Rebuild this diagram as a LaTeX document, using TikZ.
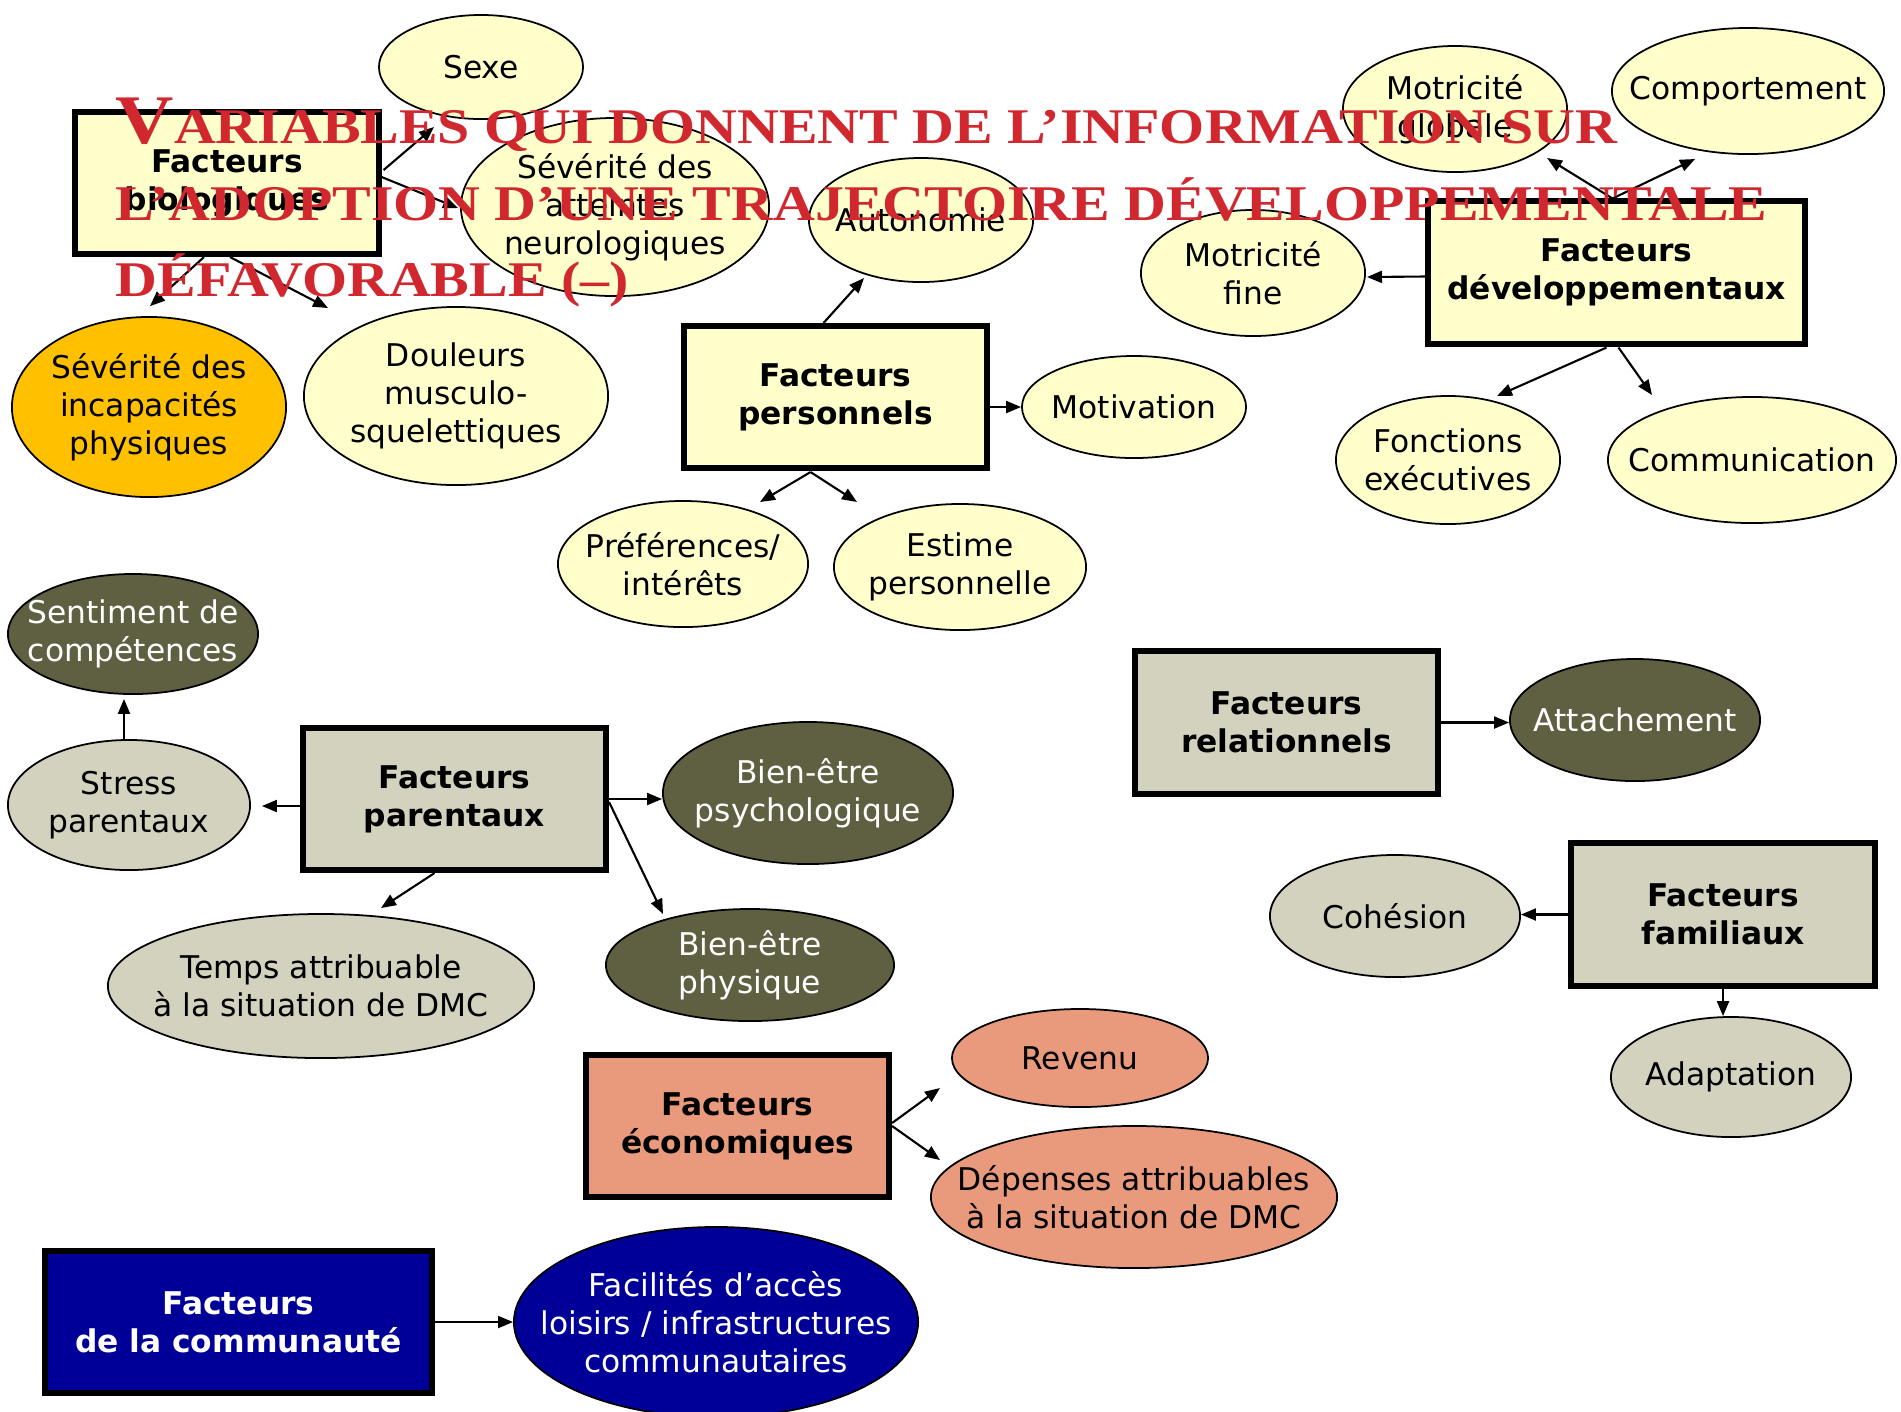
\documentclass[tikz,border=0pt]{standalone}
\usepackage{graphicx}
\usepackage{fontspec}
\setmainfont{DejaVu Sans}
\newfontfamily\titrefont{Liberation Serif}
\usetikzlibrary{shapes.geometric,arrows.meta,calc}
\definecolor{JauneClr}{RGB}{255,255,204}
\definecolor{OrangeClr}{RGB}{255,192,0}
\definecolor{BeigeClr}{RGB}{210,210,190}
\definecolor{OliveClr}{RGB}{95,95,65}
\definecolor{SaumonClr}{RGB}{233,154,124}
\definecolor{BleuClr}{RGB}{0,0,153}
\definecolor{TitreClr}{RGB}{209,40,48}
\newcommand{\titreligne}[1]{\scalebox{1.16}[1]{#1}}

\begin{document}
\begin{tikzpicture}[x=0.01cm,y=-0.01cm,
  fact/.style={draw,line width=1.7pt,minimum width=3.03cm,minimum height=1.42cm,inner sep=0pt,align=center,font=\fontsize{8.9}{10.8}\selectfont\bfseries},
  var/.style={draw,ellipse,line width=0.5pt,inner sep=-1cm,align=center,font=\fontsize{8.9}{10.8}\selectfont},
  fleche/.style={-{Triangle[length=0.15cm,width=0.12cm]},line width=0.6pt},
  titre/.style={anchor=base west,inner sep=0pt,text=TitreClr,font=\titrefont\bfseries\fontsize{14.2}{17}\selectfont}]

\useasboundingbox (0,0) rectangle (1901,1411);

% les facteurs
\node[fact,fill=JauneClr] (bio) at (227,183) {Facteurs\\biologiques};
\node[fact,fill=JauneClr] (pers) at (835.5,397) {Facteurs\\personnels};
\node[fact,fill=JauneClr,minimum width=3.77cm] (dev) at (1616.5,272.5) {Facteurs\\développementaux};
\node[fact,fill=BeigeClr] (par) at (454.5,799) {Facteurs\\parentaux};
\node[fact,fill=BeigeClr] (rel) at (1286.5,722.5) {Facteurs\\relationnels};
\node[fact,fill=BeigeClr] (fam) at (1723,914.5) {Facteurs\\familiaux};
\node[fact,fill=SaumonClr] (eco) at (737.5,1126) {Facteurs\\économiques};
\node[fact,fill=BleuClr,text=white,minimum width=3.87cm] (com) at (238.5,1322) {Facteurs\\de la communauté};

% variables
\node[var,fill=JauneClr,minimum width=2.04cm,minimum height=1.04cm] (sexe) at (481,67) {Sexe};
\node[var,fill=JauneClr,minimum width=3.08cm,minimum height=1.78cm] (neuro) at (615,207) {Sévérité des\\atteintes\\neurologiques};
\node[var,fill=OrangeClr,minimum width=2.74cm,minimum height=1.80cm] (incap) at (149,407) {Sévérité des\\incapacités\\physiques};
\node[var,fill=JauneClr,minimum width=3.04cm,minimum height=1.78cm] (doul) at (456,396) {Douleurs\\musculo-\\squelettiques};
\node[var,fill=JauneClr,minimum width=2.24cm,minimum height=1.24cm] (auto) at (921,220) {Autonomie};
\node[var,fill=JauneClr,minimum width=2.24cm,minimum height=1.02cm] (motiv) at (1134,407) {Motivation};
\node[var,fill=JauneClr,minimum width=2.50cm,minimum height=1.26cm] (pref) at (683,564) {Préférences/\\intérêts};
\node[var,fill=JauneClr,minimum width=2.52cm,minimum height=1.26cm] (estime) at (960,567) {Estime\\personnelle};
\node[var,fill=JauneClr,minimum width=2.24cm,minimum height=1.26cm] (motg) at (1455,109) {Motricité\\globale};
\node[var,fill=JauneClr,minimum width=2.72cm,minimum height=1.26cm] (comp) at (1748,91) {Comportement};
\node[var,fill=JauneClr,minimum width=2.24cm,minimum height=1.26cm] (motf) at (1253,273) {Motricité\\fine};
\node[var,fill=JauneClr,minimum width=2.24cm,minimum height=1.28cm] (fonc) at (1448,460) {Fonctions\\exécutives};
\node[var,fill=JauneClr,minimum width=2.88cm,minimum height=1.26cm] (commu) at (1752,460) {Communication};
\node[var,fill=OliveClr,text=white,minimum width=2.50cm,minimum height=1.20cm] (sent) at (133,634) {Sentiment de\\compétences};
\node[var,fill=BeigeClr,minimum width=2.42cm,minimum height=1.30cm] (stress) at (129,805) {Stress\\parentaux};
\node[var,fill=OliveClr,text=white,minimum width=2.90cm,minimum height=1.42cm] (bepsy) at (808,793) {Bien-être\\psychologique};
\node[var,fill=OliveClr,text=white,minimum width=2.88cm,minimum height=1.12cm] (bephy) at (750,965) {Bien-être\\physique};
\node[var,fill=BeigeClr,minimum width=4.26cm,minimum height=1.44cm] (temps) at (321,986) {Temps attribuable\\à la situation de DMC};
\node[var,fill=OliveClr,text=white,minimum width=2.50cm,minimum height=1.22cm] (attach) at (1635,720) {Attachement};
\node[var,fill=BeigeClr,minimum width=2.50cm,minimum height=1.22cm] (cohes) at (1395,916) {Cohésion};
\node[var,fill=BeigeClr,minimum width=2.40cm,minimum height=1.20cm] (adapt) at (1731,1077) {Adaptation};
\node[var,fill=SaumonClr,minimum width=2.56cm,minimum height=0.98cm] (revenu) at (1080,1058) {Revenu};
\node[var,fill=SaumonClr,minimum width=4.06cm,minimum height=1.42cm] (depen) at (1134,1197) {Dépenses attribuables\\à la situation de DMC};
\node[var,fill=BleuClr,text=white,minimum width=4.04cm,minimum height=1.90cm] (facil) at (716,1322) {Facilités d’accès\\loisirs / infrastructures\\communautaires};

% fleches
\draw[fleche] ($(bio.east)+(2,-13)$) -- ($(sexe)+(-47,60)$);
\draw[fleche] ($(bio.east)+(0,-6)$) -- ($(neuro.west)+(-2,1)$);
\draw[fleche] ($(bio.south)+(-23,0)$) -- ($(incap.north)+(1,-10)$);
\draw[fleche] ($(bio.south)+(3,0)$) -- ($(doul)+(-128,-88)$);
\draw[fleche] ($(pers.north)+(-12,0)$) -- ($(auto)+(-57,58)$);
\draw[fleche] (pers.east |- motiv.west) -- (motiv.west);
\draw[fleche] ($(pers.south)+(-25,1)$) -- ($(pref)+(77,-62)$);
\draw[fleche] ($(pers.south)+(-25,1)$) -- ($(estime)+(-103,-65)$);
\draw[fleche] ($(dev.north)+(-4,0)$) -- ($(motg)+(92,49)$);
\draw[fleche] ($(dev.north)+(-4,0)$) -- ($(comp)+(-53,68)$);
\draw[fleche] ($(dev.west)+(0,4)$) -- ($(motf.east)+(1,4)$);
\draw[fleche] ($(dev.south)+(-10,1)$) -- ($(fonc)+(49,-64)$);
\draw[fleche] ($(dev.south)+(2,1)$) -- ($(commu)+(-100,-65)$);
\draw[fleche] ($(stress.north)+(-5,0)$) -- ($(sent.south)+(-9,4)$);
\draw[fleche] ($(par.west)+(0,7)$) -- ($(stress.east)+(11,1)$);
\draw[fleche] (par.east) -- ($(bepsy.west)+(0,6)$);
\draw[fleche] ($(par.east)+(0,3)$) -- ($(bephy)+(-87,-51)$);
\draw[fleche] ($(par.south)+(-20,0)$) -- ($(temps)+(60,-78)$);
\draw[fleche] (rel.east) -- (rel.east -| attach.west);
\draw[fleche] (fam.west) -- (fam.west -| cohes.east);
\draw[fleche] (fam.south) -- (fam.south |- adapt.north);
\draw[fleche] ($(eco.east)+(0,-3)$) -- ($(revenu)+(-140,30)$);
\draw[fleche] (eco.east) -- ($(depen)+(-194,-37)$);
\draw[fleche] (com.east) -- (com.east -| facil.west);

% titre
\node[titre] (t1) at (115,143) {\titreligne{{\fontsize{19.8}{17}\selectfont V}ARIABLES QUI DONNENT DE L’INFORMATION SUR}};
\node[titre] (t2) at (115,220) {\titreligne{L’ADOPTION D’UNE TRAJECTOIRE DÉVELOPPEMENTALE}};
\node[titre] (t3) at (115,296) {\titreligne{DÉFAVORABLE (–)}};

\end{tikzpicture}
\end{document}
